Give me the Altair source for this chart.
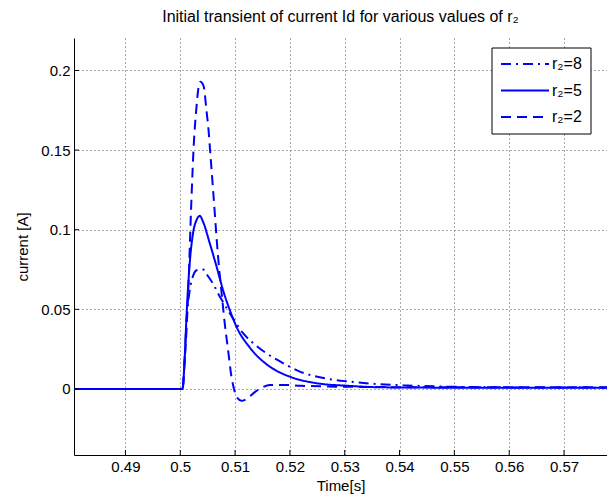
import altair as alt
import pandas as pd

# Current Id [A] against time [s] for three values of r2
t_r8 = [0.4806, 0.5004, 0.50082, 0.50113, 0.50173, 0.50234, 0.50301, 0.50416, 0.50502,
        0.50599, 0.50721, 0.50903, 0.51146, 0.51391, 0.51634, 0.51756, 0.52181, 0.52729,
        0.53094, 0.53581, 0.54061, 0.54919, 0.5583, 0.5780]
i_r8 = [0, 0, 0.020, 0.042, 0.062, 0.071, 0.0745, 0.075, 0.071,
        0.066, 0.058, 0.0476, 0.035, 0.027, 0.021, 0.0185, 0.0109, 0.0061,
        0.0046, 0.0031, 0.0023, 0.0014, 0.0010, 0.0008]

t_r5 = [0.4806, 0.5004, 0.50082, 0.50113, 0.50173, 0.50234, 0.50296, 0.50356, 0.50416,
        0.50538, 0.50661, 0.50781, 0.50903, 0.51026, 0.51268, 0.51634, 0.51999, 0.52486,
        0.53094, 0.53696, 0.54919, 0.5780]
i_r5 = [0, 0, 0.020, 0.045, 0.079, 0.098, 0.106, 0.1087, 0.105,
        0.0915, 0.077, 0.062, 0.0496, 0.039, 0.026, 0.014, 0.0077, 0.0036,
        0.0019, 0.0010, 0.0008, 0.0008]

t_r2 = [0.4806, 0.5004, 0.50082, 0.50113, 0.50142, 0.50204, 0.50246, 0.50296, 0.50332,
        0.50370, 0.50410, 0.50434, 0.50478, 0.50515, 0.50544, 0.50599, 0.50690, 0.50770,
        0.50812, 0.50872, 0.50934, 0.50980, 0.51050, 0.51117, 0.51200, 0.5136, 0.5150,
        0.51633, 0.5190, 0.5220, 0.5270, 0.5350, 0.5450, 0.5780]
i_r2 = [0, 0, 0.018, 0.036, 0.058, 0.119, 0.153, 0.177, 0.189,
        0.193, 0.1915, 0.189, 0.175, 0.163, 0.150, 0.125, 0.083, 0.055,
        0.041, 0.0245, 0.0077, 0.000, -0.006, -0.0075, -0.0065, -0.002, 0.001,
        0.0025, 0.0025, 0.002, 0.0015, 0.0012, 0.001, 0.001]

series_names = ["r\u2082=8", "r\u2082=5", "r\u2082=2"]
x_ticks = [0.49, 0.50, 0.51, 0.52, 0.53, 0.54, 0.55, 0.56, 0.57]
y_ticks = [0, 0.05, 0.1, 0.15, 0.2]

X_DOMAIN = [0.48062, 0.57784]
Y_DOMAIN = [-0.0415, 0.2204]
W, H = 533, 417
FONT = "Liberation Sans"
BLUE = "#0000ff"

frames = []
for name, t, i in zip(series_names, [t_r8, t_r5, t_r2], [i_r8, i_r5, i_r2]):
    frames.append(pd.DataFrame({"t": t, "i": i, "series": name}))
curves = pd.concat(frames, ignore_index=True)

x_enc = alt.X("t:Q", scale=alt.Scale(domain=X_DOMAIN, nice=False, zero=False),
              axis=alt.Axis(values=x_ticks, format="~g", title="Time[s]"))
y_enc = alt.Y("i:Q", scale=alt.Scale(domain=Y_DOMAIN, nice=False, zero=False),
              axis=alt.Axis(values=y_ticks, format="~g", title="current [A]"))

dash_styles = [[10, 5, 2, 5], [1, 0], [10, 6]]

lines = alt.Chart(curves).mark_line(color=BLUE, strokeWidth=2, clip=True,
                                    interpolate="monotone").encode(
    x=x_enc,
    y=y_enc,
    strokeDash=alt.StrokeDash("series:N",
                              scale=alt.Scale(domain=series_names, range=dash_styles),
                              legend=None),
    detail="series:N",
)

# inward tick marks on the left and bottom axes
xt = alt.Chart(pd.DataFrame({"t": x_ticks})).mark_rule(color="black", strokeWidth=1).encode(
    x=alt.X("t:Q"), y=alt.value(H), y2=alt.value(H - 5))
yt = alt.Chart(pd.DataFrame({"i": y_ticks})).mark_rule(color="black", strokeWidth=1).encode(
    y=alt.Y("i:Q"), x=alt.value(0), x2=alt.value(5))

# legend box in the upper right corner
one = pd.DataFrame({"k": [0]})
box = alt.Chart(one).mark_rect(fill="white", stroke="black", strokeWidth=1).encode(
    x=alt.value(418), x2=alt.value(517), y=alt.value(10), y2=alt.value(96))

legend_layers = [box]
row_y = [26, 52.5, 79]
for name, dash, ry in zip(series_names, dash_styles, row_y):
    legend_layers.append(
        alt.Chart(one).mark_rule(color=BLUE, strokeWidth=2, strokeDash=dash).encode(
            x=alt.value(427), x2=alt.value(475), y=alt.value(ry)))
    legend_layers.append(
        alt.Chart(one).mark_text(text=name, align="left", baseline="middle",
                                 font=FONT, fontSize=16, color="black").encode(
            x=alt.value(478), y=alt.value(ry)))

chart = alt.layer(lines, xt, yt, *legend_layers).properties(
    width=W,
    height=H,
    background="white",
    title=alt.TitleParams("Initial transient of current Id for various values of r\u2082",
                          font=FONT, fontSize=16, fontWeight="normal", color="black",
                          anchor="middle", baseline="alphabetic", offset=0),
    padding={"left": 74, "top": 38, "right": 0, "bottom": 48},
    autosize=alt.AutoSizeParams(type="none"),
).configure_view(
    stroke=None
).configure_axis(
    domainColor="black",
    domainWidth=1,
    ticks=False,
    grid=True,
    gridColor="#555555",
    gridDash=[1, 3],
    gridWidth=1,
    labelFont=FONT,
    labelFontSize=15,
    labelColor="black",
    titleFont=FONT,
    titleFontSize=15,
    titleFontWeight="normal",
    titleColor="black",
).configure_axisX(
    labelPadding=4,
    titlePadding=4,
).configure_axisY(
    labelPadding=4,
    titlePadding=10,
)

chart.save("out.html", embed_options={"renderer": "svg", "actions": False})
